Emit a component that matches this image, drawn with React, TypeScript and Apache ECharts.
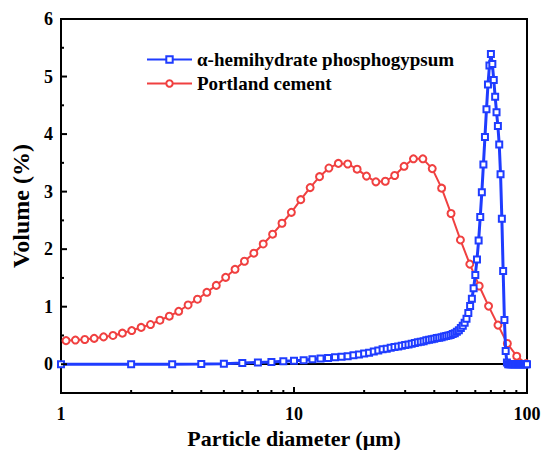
import React, { useEffect, useRef } from "react";
import * as echarts from "echarts";

const blueName = "α-hemihydrate phosphogypsum";
const redName = "Portland cement";

const blueX = [
  1, 2, 3, 4, 5, 6, 7, 8, 9, 10,
  11, 12, 13, 14, 15, 16, 17, 18, 19, 20,
  21, 22, 23, 24, 25, 26, 27, 28, 29, 30,
  31, 32, 33, 34, 35, 36, 37, 38, 39, 40,
  41, 42, 43, 44, 45, 46, 47, 48, 49, 50,
  51, 52, 53, 54, 55, 56, 57, 58, 59, 60,
  61, 62, 63, 64, 65, 66, 67, 68, 69, 70,
  71, 72, 73, 74, 75, 76, 77, 78, 79, 80,
  81, 82, 83, 84, 85, 86, 87, 88, 89, 90,
  91, 92, 93, 94, 95, 96, 97, 98, 99, 100,
];
const blueY = [
  0, 0, 0, 0.005, 0.01, 0.02, 0.03, 0.04, 0.05, 0.06,
  0.07, 0.085, 0.1, 0.11, 0.12, 0.13, 0.14, 0.155, 0.17, 0.185,
  0.2, 0.22, 0.24, 0.26, 0.27, 0.285, 0.3, 0.31, 0.32, 0.335,
  0.345, 0.355, 0.37, 0.38, 0.39, 0.4, 0.415, 0.425, 0.435, 0.445,
  0.455, 0.46, 0.47, 0.48, 0.49, 0.5, 0.51, 0.525, 0.54, 0.565,
  0.59, 0.63, 0.67, 0.72, 0.79, 0.89, 1.01, 1.14, 1.32, 1.55,
  1.82, 2.15, 2.56, 2.99, 3.47, 3.95, 4.43, 4.86, 5.19, 5.39,
  5.22, 4.94, 4.65, 4.38, 4.14, 3.82, 3.3, 2.53, 1.62, 0.77,
  0.23, 0.03, 0, 0, 0, 0, 0, 0, 0, 0,
  0, 0, 0, 0, 0, 0, 0, 0, 0, 0,
];

const redX = [
  1.051, 1.153, 1.265, 1.388, 1.523, 1.671, 1.834, 2.012, 2.208, 2.422,
  2.658, 2.916, 3.2, 3.511, 3.852, 4.227, 4.638, 5.089, 5.584, 6.127,
  6.723, 7.377, 8.094, 8.882, 9.743, 10.69, 11.73, 12.87, 14.12, 15.5,
  17.0, 18.66, 20.47, 22.46, 24.65, 27.04, 29.67, 32.56, 35.73, 39.2,
  43.01, 47.2, 51.79, 56.82, 62.35, 68.39, 75.06, 82.36, 90.35, 99.1,
];
const redY = [
  0.41, 0.42, 0.43, 0.45, 0.475, 0.5, 0.54, 0.585, 0.64, 0.69,
  0.765, 0.835, 0.92, 1.03, 1.13, 1.25, 1.37, 1.51, 1.65, 1.79,
  1.93, 2.09, 2.26, 2.45, 2.64, 2.86, 3.07, 3.26, 3.41, 3.49,
  3.48, 3.39, 3.27, 3.17, 3.18, 3.28, 3.44, 3.57, 3.57, 3.4,
  3.06, 2.62, 2.16, 1.74, 1.36, 1.01, 0.68, 0.36, 0.14, 0.01,
];

const xMajorTicks = [1, 10, 100];
const xMinorTicks = [2, 3, 4, 5, 6, 7, 8, 9, 20, 30, 40, 50, 60, 70, 80, 90];
const yMajorTicks = [0, 1, 2, 3, 4, 5, 6];
const yMinorTicks = [0.5, 1.5, 2.5, 3.5, 4.5, 5.5];

const FONT = "'Liberation Serif', 'Times New Roman', serif";
const BLUE = "#1f3cff";
const RED = "#f04040";

export default function App() {
  const ref = useRef<HTMLDivElement>(null);

  useEffect(() => {
    if (!ref.current) return;
    const chart = echarts.init(ref.current, undefined, { renderer: "svg" });

    const tickData: number[][] = [
      ...xMajorTicks.map((v) => [v, -0.5, 6, 0]),
      ...xMinorTicks.map((v) => [v, -0.5, 3, 0]),
      ...yMajorTicks.map((v) => [1, v, 6, 1]),
      ...yMinorTicks.map((v) => [1, v, 3, 1]),
    ];

    chart.setOption({
      animation: false,
      backgroundColor: "#fff",
      grid: {
        left: 61,
        right: 14,
        top: 19,
        bottom: 57,
        containLabel: false,
        outerBoundsMode: "none",
        show: true,
        borderColor: "#000",
        borderWidth: 2,
        backgroundColor: "transparent",
      },
      legend: {
        orient: "vertical",
        left: 141,
        top: 45,
        itemWidth: 45,
        itemHeight: 8,
        itemGap: 5,
        data: [blueName, redName],
        textStyle: {
          fontFamily: FONT,
          fontWeight: "bold",
          fontSize: 19,
          lineHeight: 19,
          color: "#000",
        },
      },
      xAxis: {
        type: "log",
        logBase: 10,
        min: 1,
        max: 100,
        name: "Particle diameter (μm)",
        nameLocation: "middle",
        nameGap: 33,
        nameTextStyle: {
          fontFamily: FONT,
          fontWeight: "bold",
          fontSize: 22,
          color: "#000",
        },
        axisLine: { show: true, lineStyle: { color: "#000", width: 2 } },
        axisTick: { show: false },
        minorTick: { show: false },
        splitLine: { show: false },
        axisLabel: {
          margin: 12,
          fontFamily: FONT,
          fontWeight: "bold",
          fontSize: 18,
          color: "#000",
          formatter: (v: number) => String(Math.round(v)),
        },
      },
      yAxis: {
        type: "value",
        min: -0.5,
        max: 6,
        interval: 0.5,
        name: "Volume (%)",
        nameLocation: "middle",
        nameGap: 15,
        nameTextStyle: {
          fontFamily: FONT,
          fontWeight: "bold",
          fontSize: 24,
          color: "#000",
        },
        axisLine: { show: true, lineStyle: { color: "#000", width: 2 } },
        axisTick: { show: false },
        splitLine: { show: false },
        axisLabel: {
          margin: 8,
          fontFamily: FONT,
          fontWeight: "bold",
          fontSize: 18,
          color: "#000",
          formatter: (v: number) =>
            Math.abs(v - Math.round(v)) < 1e-9 ? String(Math.round(v)) : "",
        },
      },
      series: [
        {
          name: redName,
          type: "line",
          data: redX.map((x, i) => [x, redY[i]]),
          symbol: "emptyCircle",
          symbolSize: 7,
          showAllSymbol: true,
          color: RED,
          lineStyle: { color: RED, width: 2 },
          itemStyle: { color: RED, borderColor: RED, borderWidth: 1.7 },
          z: 2,
        },
        {
          name: blueName,
          type: "line",
          data: blueX.map((x, i) => [x, blueY[i]]),
          symbol: "emptyRect",
          symbolSize: 6,
          showAllSymbol: true,
          color: BLUE,
          lineStyle: { color: BLUE, width: 3 },
          itemStyle: { color: BLUE, borderColor: BLUE, borderWidth: 1.7 },
          z: 3,
        },
        {
          type: "custom",
          silent: true,
          clip: false,
          z: 10,
          data: tickData,
          encode: { x: 0, y: 1 },
          renderItem: (_params: any, api: any) => {
            const p = api.coord([api.value(0), api.value(1)]);
            const len = api.value(2);
            const horiz = api.value(3) === 1;
            return {
              type: "line",
              shape: horiz
                ? { x1: p[0], y1: p[1], x2: p[0] + len, y2: p[1] }
                : { x1: p[0], y1: p[1], x2: p[0], y2: p[1] - len },
              style: { stroke: "#000", lineWidth: 2 },
            };
          },
        },
      ],
    });

    return () => chart.dispose();
  }, []);

  return (
    <div
      ref={ref}
      style={{ position: "fixed", left: 0, top: 0, width: 541, height: 450 }}
    />
  );
}
